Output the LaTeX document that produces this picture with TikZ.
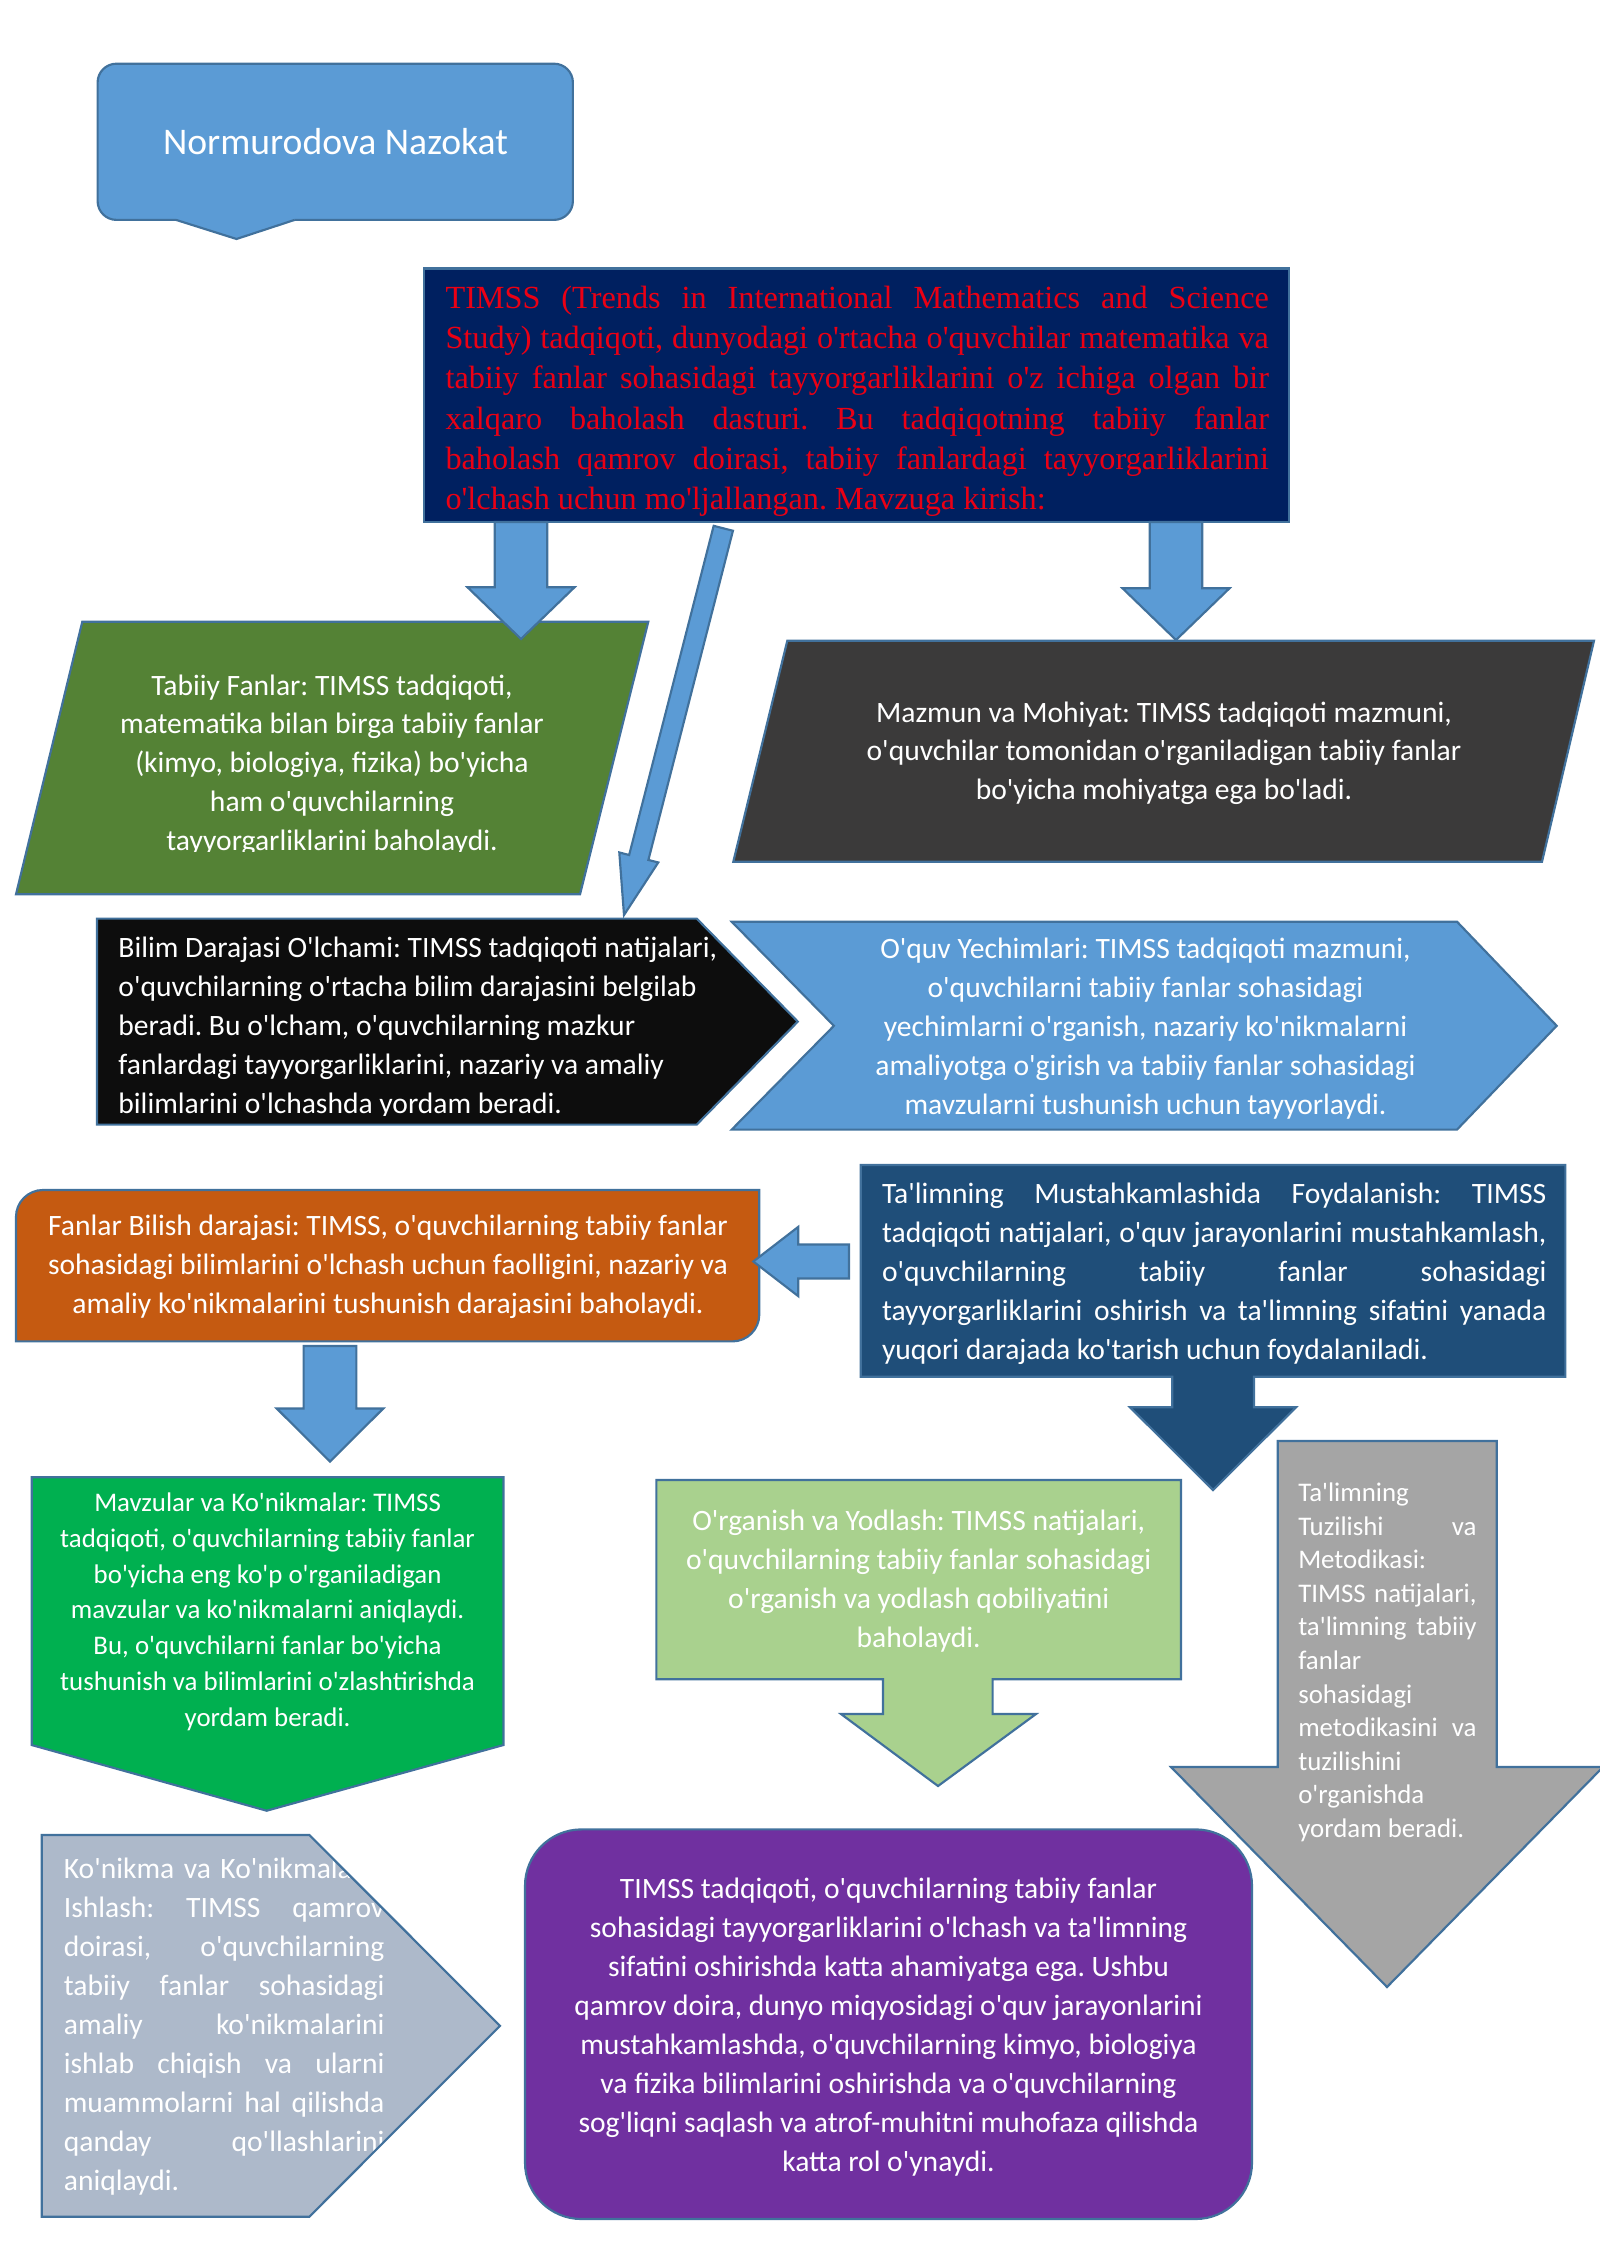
\documentclass[tikz,border=0pt]{standalone}
\usepackage{fontspec}
\usepackage{tikz}
\usetikzlibrary{calc}
\newfontfamily\calibri{Carlito}
\newfontfamily\tnrfont{Liberation Serif}
\definecolor{cblue}{RGB}{91,155,213}
\definecolor{edge}{RGB}{65,113,156}
\definecolor{navy}{RGB}{0,32,96}
\definecolor{tred}{RGB}{235,0,20}
\definecolor{fgreen}{RGB}{84,130,53}
\definecolor{dgrey}{RGB}{59,58,58}
\definecolor{nblack}{RGB}{13,13,13}
\definecolor{orng}{RGB}{197,90,17}
\definecolor{dblue}{RGB}{31,78,121}
\definecolor{lgreen}{RGB}{169,209,142}
\definecolor{mgrey}{RGB}{165,165,165}
\definecolor{slate}{RGB}{173,185,202}
\definecolor{brgreen}{RGB}{0,176,80}
\definecolor{purp}{RGB}{112,48,160}
\tikzstyle{shp} = [draw=edge, line width=0.8pt]
\tikzstyle{barw} = [shp, fill=cblue]
\tikzstyle{txt} = [inner sep=0pt, text=white, font=\calibri\frenchspacing\fontsize{11}{14.5}\selectfont]
\tikzstyle{ctxt} = [txt, align=center, anchor=north, execute at begin node={\spaceskip=0pt\relax\xspaceskip=0pt\relax
  \leftskip=0pt plus 1fil\relax\rightskip=0pt plus 1fil\relax\parfillskip=0pt\relax}]
\tikzstyle{jtxt} = [txt, align=left, anchor=north west, execute at begin node={\spaceskip=0pt\relax\xspaceskip=0pt\relax
  \rightskip=0pt plus 1fil\relax}]
% one justified line of a box
\newcommand{\jline}[1]{\makebox[\hsize][s]{#1}\\}
% block arrow: [style]{tail}{tip}{shaft half}{head half}{head length}
\newcommand{\barrow}[6][]{%
  \coordinate (bh) at ($(#3)!#6!(#2)$);
  \path[#1] ($(#2)!#4!90:(#3)$) -- ($(bh)!#4!-90:(#2)$) -- ($(bh)!#5!-90:(#2)$) -- (#3)
    -- ($(bh)!#5!90:(#2)$) -- ($(bh)!#4!90:(#2)$) -- ($(#2)!#4!-90:(#3)$) -- cycle;
}

\begin{document}
\begin{tikzpicture}[x=0.37206pt, y=-0.37206pt]
\useasboundingbox (0,0) rectangle (1600,2262);

% shapes =============================

% title callout
\path[fill=cblue, rounded corners=7pt] (97.6,63.7) rectangle (572.9,219.9);
\path[shp, fill=cblue] (176,219.9) -- (236.5,239) -- (294.7,219.9);
\path[shp, rounded corners=7pt] (176,219.9) -- (97.6,219.9) -- (97.6,63.7) -- (572.9,63.7)
  -- (572.9,219.9) -- (294.7,219.9);
\node[txt, font=\calibri\fontsize{14}{17}\selectfont, anchor=base] (titl) at (335.5,154.8) {Normurodova Nazokat};

% top box
\path[shp, fill=navy] (424,268.5) rectangle (1289,522);
\node[jtxt, text=tred, text width=306.35pt, font=\tnrfont\frenchspacing\fontsize{12}{14.96}\selectfont] (timss) at (445,279.9)
  {\strut\jline{TIMSS (Trends in International Mathematics and Science}\jline{Study) tadqiqoti, dunyodagi o'rtacha o'quvchilar matematika va}\jline{tabiiy fanlar sohasidagi tayyorgarliklarini o'z ichiga olgan bir}\jline{xalqaro baholash dasturi. Bu tadqiqotning tabiiy fanlar}\jline{baholash qamrov doirasi, tabiiy fanlardagi tayyorgarliklarini}o'lchash uchun mo'ljallangan. Mavzuga kirish:};

% second row
\path[shp, fill=fgreen] (82.3,621.7) -- (648.3,621.7) -- (580,894.3) -- (16,894.3) -- cycle;
\begin{scope}
\clip (0,600) rectangle (700,851);
\node[ctxt, text width=230pt] (tabiiy) at (332,667.2)
  {\strut Tabiiy Fanlar: TIMSS tadqiqoti,\\ matematika bilan birga tabiiy fanlar\\ (kimyo, biologiya, fizika) bo'yicha\\ ham o'quvchilarning\\ tayyorgarliklarini baholaydi.};
\end{scope}

\path[shp, fill=dgrey] (787.3,640.7) -- (1594,640.7) -- (1542,861.7) -- (733.3,861.7) -- cycle;
\node[ctxt, text width=300pt] (mazmun) at (1164,694.2)
  {\strut Mazmun va Mohiyat: TIMSS tadqiqoti mazmuni,\\ o'quvchilar tomonidan o'rganiladigan tabiiy fanlar\\ bo'yicha mohiyatga ega bo'ladi.};

% third row
\path[shp, fill=nblack] (97,918.6) -- (696.7,918.6) -- (797.8,1021.6) -- (696.7,1124.6) -- (97,1124.6) -- cycle;
\begin{scope}
\clip (0,900) rectangle (800,1115);
\node[jtxt, text width=260pt] (bilim) at (117.9,929.5)
  {\strut Bilim Darajasi O'lchami: TIMSS tadqiqoti natijalari,\\ o'quvchilarning o'rtacha bilim darajasini belgilab\\ beradi. Bu o'lcham, o'quvchilarning mazkur\\ fanlardagi tayyorgarliklarini, nazariy va amaliy\\ bilimlarini o'lchashda yordam beradi.};
\end{scope}

\path[shp, fill=cblue] (731.7,921.7) -- (1457,921.7) -- (1556.7,1025.8) -- (1457,1129.6) -- (731.7,1129.6) -- (833.9,1025.8) -- cycle;
\node[ctxt, text width=280pt] (oquv) at (1145.5,931)
  {\strut O'quv Yechimlari: TIMSS tadqiqoti mazmuni,\\ o'quvchilarni tabiiy fanlar sohasidagi\\ yechimlarni o'rganish, nazariy ko'nikmalarni\\ amaliyotga o'girish va tabiiy fanlar sohasidagi\\ mavzularni tushunish uchun tayyorlaydi.};

% fourth row
\path[shp, fill=orng] (16,1341.4) [rounded corners=10pt] -- (16,1190) [sharp corners] -- (759.3,1190)
  [rounded corners=10pt] -- (759.3,1341.4) [sharp corners] -- cycle;
\node[ctxt, text width=275pt] (fanlar) at (388,1208.1)
  {\strut Fanlar Bilish darajasi: TIMSS, o'quvchilarning tabiiy fanlar\\ sohasidagi bilimlarini o'lchash uchun faolligini, nazariy va\\ amaliy ko'nikmalarini tushunish darajasini baholaydi.};

\path[shp, fill=dblue] (860.7,1165) -- (1565.3,1165) -- (1565.3,1376.7) -- (1254,1376.7) -- (1254,1407.3) -- (1296,1407.3)
  -- (1213,1490) -- (1130,1407.3) -- (1172.3,1407.3) -- (1172.3,1376.7) -- (860.7,1376.7) -- cycle;
\node[jtxt, text width=247.2pt] (mustahkam) at (881.5,1176)
  {\strut\jline{Ta'limning Mustahkamlashida Foydalanish: TIMSS}\jline{tadqiqoti natijalari, o'quv jarayonlarini mustahkamlash,}\jline{o'quvchilarning tabiiy fanlar sohasidagi}\jline{tayyorgarliklarini oshirish va ta'limning sifatini yanada}yuqori darajada ko'tarish uchun foydalaniladi.};

% fifth row
\path[shp, fill=brgreen] (31.7,1477.3) -- (503.5,1477.3) -- (503.5,1745) -- (266.7,1810.7) -- (31.7,1745) -- cycle;
\node[ctxt, text width=175pt, font=\calibri\frenchspacing\fontsize{10}{13.3}\selectfont] (mavzular) at (267.6,1486)
  {\strut Mavzular va Ko'nikmalar: TIMSS\\ tadqiqoti, o'quvchilarning tabiiy fanlar\\ bo'yicha eng ko'p o'rganiladigan\\ mavzular va ko'nikmalarni aniqlaydi.\\ Bu, o'quvchilarni fanlar bo'yicha\\ tushunish va bilimlarini o'zlashtirishda\\ yordam beradi.};

\path[shp, fill=lgreen] (656.4,1480) -- (1181,1480) -- (1181,1679.3) -- (992.6,1679.3) -- (992.6,1714) -- (1036,1714)
  -- (938,1786) -- (841,1714) -- (883,1714) -- (883,1679.3) -- (656.4,1679.3) -- cycle;
\node[ctxt, text width=195pt] (organish) at (918.7,1502.7)
  {\strut O'rganish va Yodlash: TIMSS natijalari,\\ o'quvchilarning tabiiy fanlar sohasidagi\\ o'rganish va yodlash qobiliyatini\\ baholaydi.};

\path[shp, fill=mgrey] (1277.7,1441) -- (1496.7,1441) -- (1496.7,1767) -- (1603,1767) -- (1387,1987) -- (1171,1767)
  -- (1277.7,1767) -- cycle;
\node[jtxt, text width=66.34pt, font=\calibri\frenchspacing\fontsize{10}{12.5}\selectfont] (tuzilish) at (1297.7,1477.5)
  {\strut Ta'limning\\ \jline{Tuzilishi va}Metodikasi:\\ \jline{TIMSS natijalari,}\jline{ta'limning tabiiy}fanlar\\ sohasidagi\\ \jline{metodikasini va}tuzilishini\\ o'rganishda\\ yordam beradi.};

% bottom row
\path[fill=slate] (41.7,1835) -- (309.3,1835) -- (500,2025.8) -- (309.3,2216.7) -- (41.7,2216.7) -- cycle;
\begin{scope}
\clip (41.7,1835) -- (309.3,1835) -- (500,2025.8) -- (309.3,2216.7) -- (41.7,2216.7) -- cycle;
\node[jtxt, text width=119.3pt] (konikma) at (63.3,1851)
  {\strut\jline{Ko'nikma va Ko'nikmalarni}\jline{Ishlash: TIMSS qamrov}\jline{doirasi, o'quvchilarning}\jline{tabiiy fanlar sohasidagi}\jline{amaliy ko'nikmalarini}\jline{ishlab chiqish va ularni}\jline{muammolarni hal qilishda}\jline{qanday qo'llashlarini}aniqlaydi.};
\end{scope}
\path[shp] (41.7,1835) -- (309.3,1835) -- (500,2025.8) -- (309.3,2216.7) -- (41.7,2216.7) -- cycle;

\path[shp, fill=purp, rounded corners=21pt] (525,1829.4) rectangle (1252,2219);
\node[ctxt, text width=265pt] (xulosa) at (888.5,1870.7)
  {\strut TIMSS tadqiqoti, o'quvchilarning tabiiy fanlar\\ sohasidagi tayyorgarliklarini o'lchash va ta'limning\\ sifatini oshirishda katta ahamiyatga ega. Ushbu\\ qamrov doira, dunyo miqyosidagi o'quv jarayonlarini\\ mustahkamlashda, o'quvchilarning kimyo, biologiya\\ va fizika bilimlarini oshirishda va o'quvchilarning\\ sog'liqni saqlash va atrof-muhitni muhofaza qilishda\\ katta rol o'ynaydi.};

% arrows =============================
\coordinate (a1s) at (521,522);
\coordinate (a1e) at (521,639);
\coordinate (a2s) at (1176,522);
\coordinate (a2e) at (1176,640);
\coordinate (a3s) at (723.3,528.3);
\coordinate (a3e) at (624,915);
\coordinate (a4s) at (849,1261.5);
\coordinate (a4e) at (753.3,1261.5);
\coordinate (a5s) at (330,1346);
\coordinate (a5e) at (330,1461.5);

% top box to second row
\barrow[barw]{a1s}{a1e}{9.77pt}{19.9pt}{19.24pt}
\barrow[barw]{a2s}{a2e}{9.77pt}{19.9pt}{19.24pt}
% top box to black box
\barrow[barw]{a3s}{a3e}{3.7pt}{7.48pt}{22.1pt}
% right box to orange box
\barrow[barw]{a4s}{a4e}{6.33pt}{12.9pt}{16.74pt}
% orange box to green box
\barrow[barw]{a5s}{a5e}{9.82pt}{19.8pt}{19.7pt}

\end{tikzpicture}
\end{document}
